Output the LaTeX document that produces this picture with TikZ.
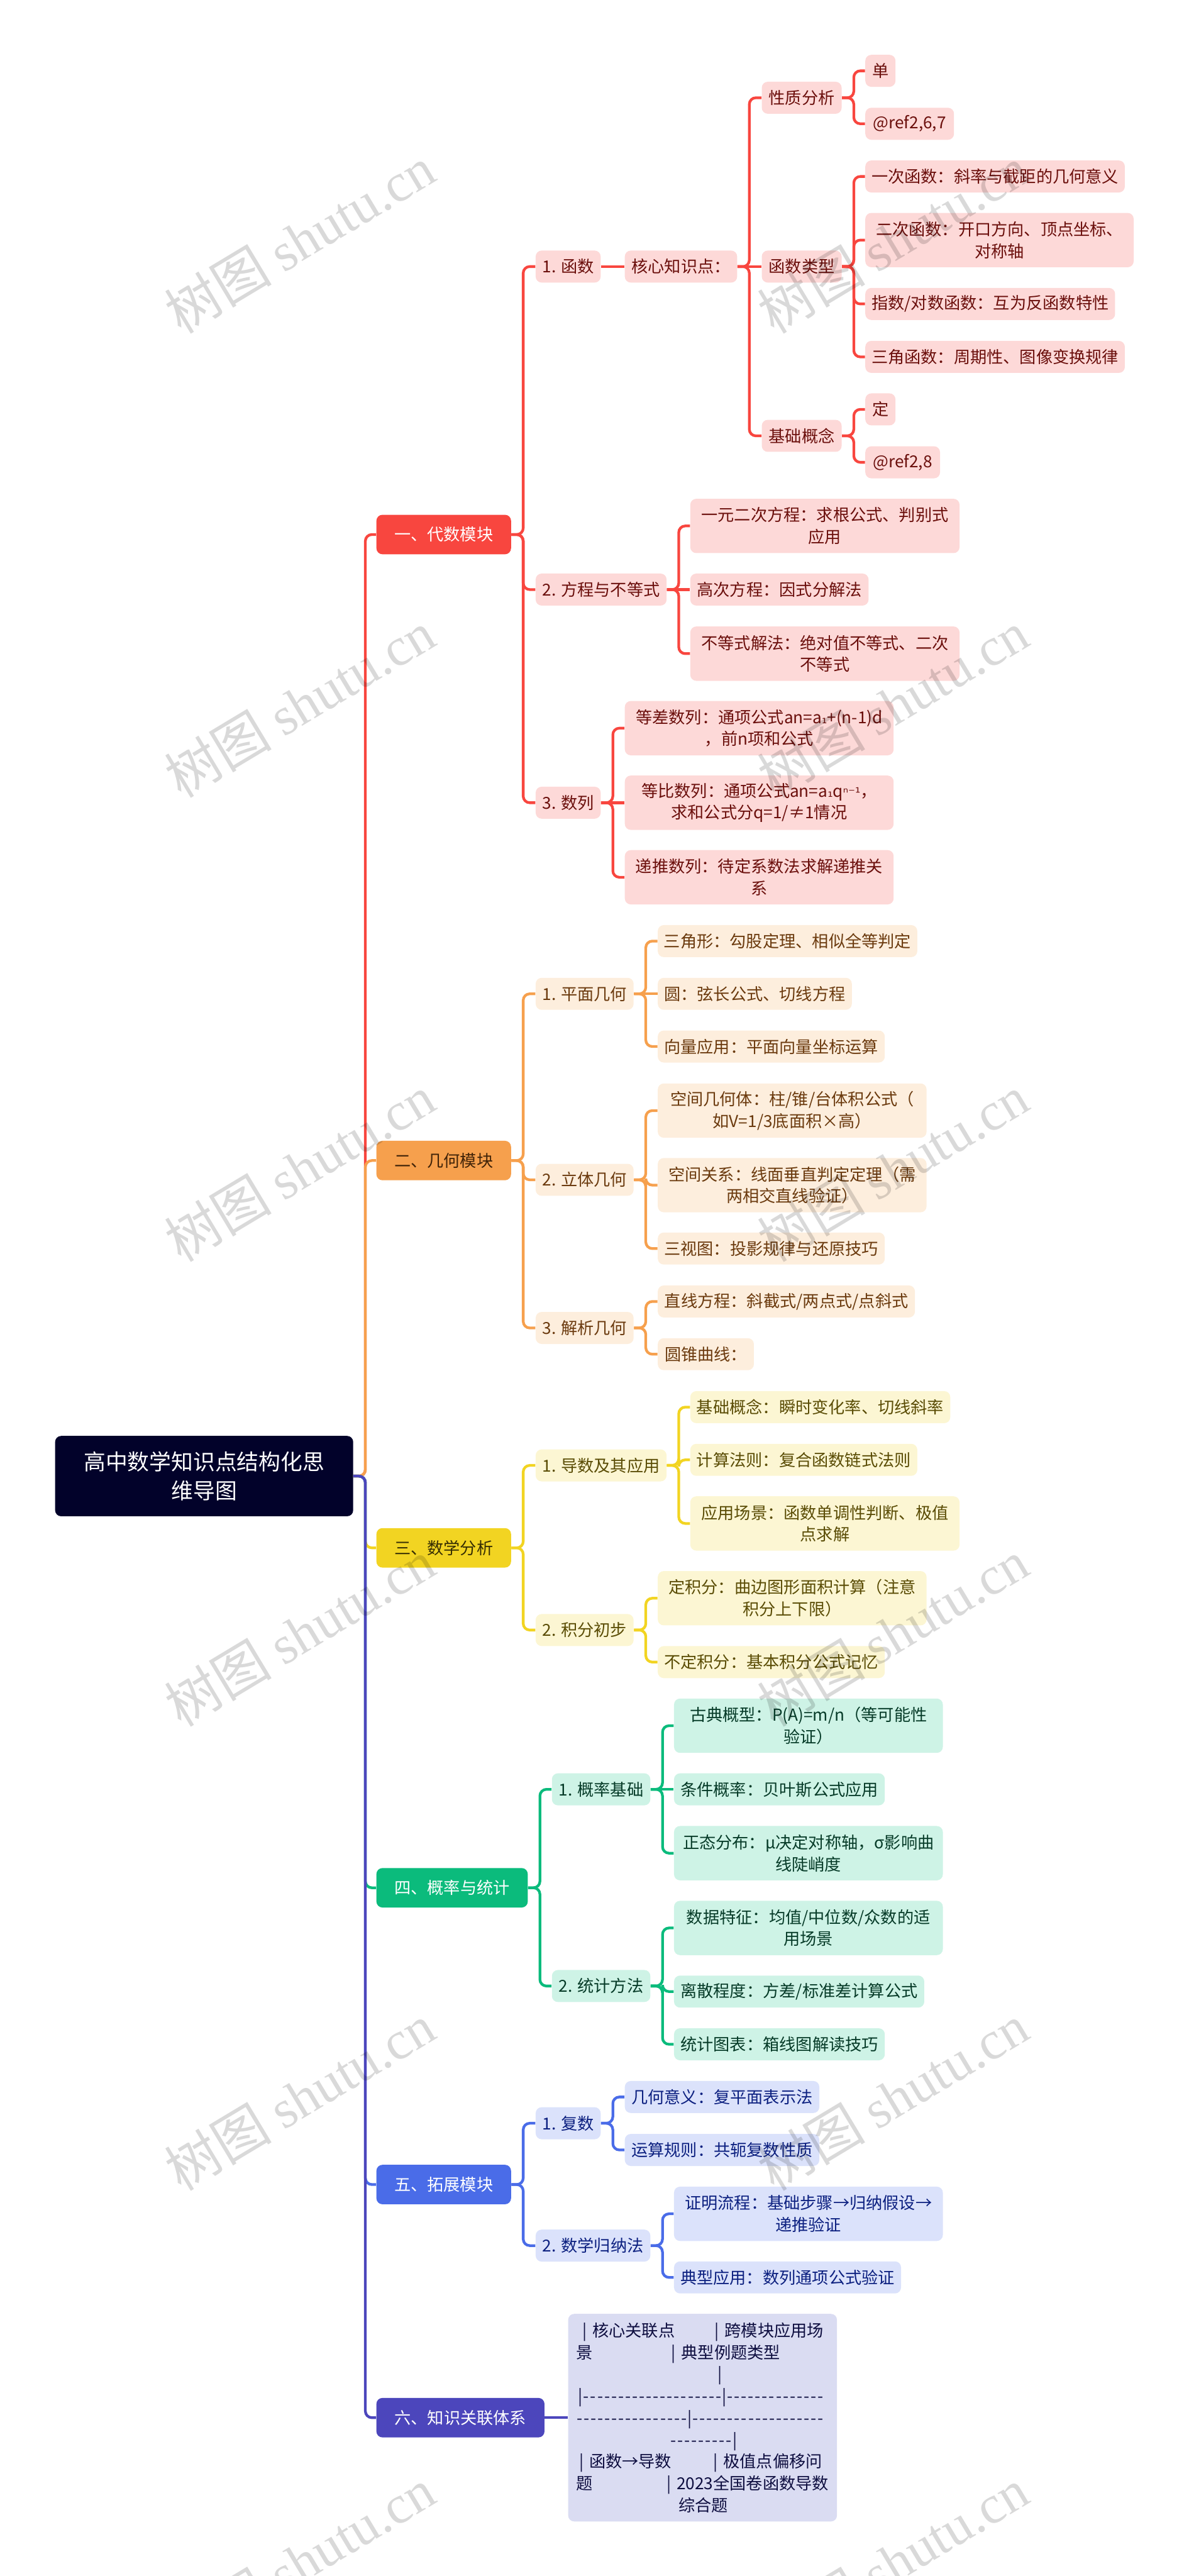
\documentclass[tikz,border=0pt]{standalone}
\usepackage{fontspec}
\setmainfont{Noto Sans CJK SC}
\newfontfamily\markfont{Liberation Serif}
\newfontfamily\symfont{DejaVu Sans}
\usepackage{tikz}
\definecolor{redd}{HTML}{F8463F}
\definecolor{redl}{HTML}{FDD9D8}
\definecolor{redt}{HTML}{6B0F0C}
\definecolor{ord}{HTML}{F6A04D}
\definecolor{orl}{HTML}{FDEEDD}
\definecolor{ort}{HTML}{6B3A0E}
\definecolor{yed}{HTML}{F2D422}
\definecolor{yel}{HTML}{FCF6D3}
\definecolor{yet}{HTML}{5A4C05}
\definecolor{grd}{HTML}{0BBB7C}
\definecolor{grl}{HTML}{CEF3E6}
\definecolor{grt}{HTML}{063B28}
\definecolor{bld}{HTML}{4A6CE8}
\definecolor{bll}{HTML}{DBE2FB}
\definecolor{blt}{HTML}{0C2080}
\definecolor{ind}{HTML}{4C46BC}
\definecolor{inl}{HTML}{DADCF2}
\definecolor{int}{HTML}{0E0E40}
\definecolor{rootc}{HTML}{02022A}
\tikzset{
    box/.style={anchor=west, rounded corners=.13cm, inner sep=0pt, align=center,
        font=\fontsize{10.1}{13.37}\selectfont},
    tall/.style={minimum height=1.17cm},
    leafr/.style={box, fill=redl, text=redt, minimum height=.69cm},
    leafo/.style={box, fill=orl, text=ort, minimum height=.69cm},
    leafy/.style={box, fill=yel, text=yet, minimum height=.69cm},
    leafg/.style={box, fill=grl, text=grt, minimum height=.69cm},
    leafb/.style={box, fill=bll, text=blt, minimum height=.69cm},
    branch/.style={box, minimum height=.85cm},
    wire/.style={line width=.058cm, rounded corners=.14cm},
    wmark/.style={rotate=31, text=black, opacity=.15, font=\fontsize{33}{34}\selectfont}
}
\newcommand{\hy}[1]{\foreach \k in {1,...,#1}{\makebox[.15cm]{-}}}
\newcommand{\gap}{.255}

\begin{document}
\begin{tikzpicture}

\useasboundingbox (0,0) rectangle (25.6,-55.47);

\node[box, fill=rootc, text=white, minimum width=6.42cm, minimum height=1.73cm,
    font=\fontsize{13.4}{17.8}\selectfont] (root) at (1.18,-31.785)
    {高中数学知识点结构化思\\维导图};

% algebra
\node[branch, fill=redd, text=white, minimum width=2.9cm] (a) at (8.1,-11.51) {一、代数模块};
\node[leafr, minimum width=1.4cm] (a1) at (11.53,-5.74) {1. 函数};
\node[leafr, minimum width=2.42cm] (a1k) at (13.45,-5.74) {核心知识点：};
\node[leafr, minimum width=1.72cm] (a1p) at (16.4,-2.105) {性质分析};
\node[leafr, minimum width=.65cm] (a1p1) at (18.63,-1.525) {单};
\node[leafr, minimum width=1.91cm] (a1p2) at (18.63,-2.665) {@ref2,6,7};
\node[leafr, minimum width=1.72cm] (a1t) at (16.4,-5.74) {函数类型};
\node[leafr, minimum width=5.59cm] (a1t1) at (18.63,-3.8) {一次函数：斜率与截距的几何意义};
\node[leafr, tall, minimum width=5.78cm] (a1t2) at (18.63,-5.17) {二次函数：开口方向、顶点坐标、\\对称轴};
\node[leafr, minimum width=5.38cm] (a1t3) at (18.63,-6.545) {指数/对数函数：互为反函数特性};
\node[leafr, minimum width=5.59cm] (a1t4) at (18.63,-7.685) {三角函数：周期性、图像变换规律};
\node[leafr, minimum width=1.72cm] (a1b) at (16.4,-9.385) {基础概念};
\node[leafr, minimum width=.65cm] (a1b1) at (18.63,-8.815) {定};
\node[leafr, minimum width=1.61cm] (a1b2) at (18.63,-9.955) {@ref2,8};
\node[leafr, minimum width=2.82cm] (a2) at (11.53,-12.695) {2. 方程与不等式};
\node[leafr, tall, minimum width=5.8cm] (a21) at (14.86,-11.325) {一元二次方程：求根公式、判别式\\应用};
\node[leafr, minimum width=3.84cm] (a22) at (14.86,-12.695) {高次方程：因式分解法};
\node[leafr, tall, minimum width=5.8cm] (a23) at (14.86,-14.075) {不等式解法：绝对值不等式、二次\\不等式};
\node[leafr, minimum width=1.4cm] (a3) at (11.53,-17.285) {3. 数列};
\node[leafr, tall, minimum width=5.79cm] (a31) at (13.45,-15.68) {等差数列：通项公式an=a{\symfont\footnotesize ₁}+(n-1)d\\，前n项和公式};
\node[leafr, tall, minimum width=5.79cm] (a32) at (13.45,-17.285) {等比数列：通项公式an=a{\symfont\footnotesize ₁}q{\symfont\footnotesize ⁿ⁻¹}，\\求和公式分q=1/≠1情况};
\node[leafr, tall, minimum width=5.79cm] (a33) at (13.45,-18.89) {递推数列：待定系数法求解递推关\\系};

% geometry
\node[branch, fill=ord, text=ort!60!black, minimum width=2.9cm] (g) at (8.1,-24.99) {二、几何模块};
\node[leafo, minimum width=2.11cm] (g1) at (11.53,-21.4) {1. 平面几何};
\node[leafo, minimum width=5.59cm] (g11) at (14.16,-20.265) {三角形：勾股定理、相似全等判定};
\node[leafo, minimum width=4.18cm] (g12) at (14.16,-21.4) {圆：弦长公式、切线方程};
\node[leafo, minimum width=4.89cm] (g13) at (14.16,-22.535) {向量应用：平面向量坐标运算};
\node[leafo, minimum width=2.11cm] (g2) at (11.53,-25.405) {2. 立体几何};
\node[leafo, tall, minimum width=5.79cm] (g21) at (14.16,-23.915) {空间几何体：柱/锥/台体积公式（\\如V=1/3底面积×高）};
\node[leafo, tall, minimum width=5.79cm] (g22) at (14.16,-25.52) {空间关系：线面垂直判定定理（需\\两相交直线验证）};
\node[leafo, minimum width=4.89cm] (g23) at (14.16,-26.885) {三视图：投影规律与还原技巧};
\node[leafo, minimum width=2.11cm] (g3) at (11.53,-28.595) {3. 解析几何};
\node[leafo, minimum width=5.54cm] (g31) at (14.16,-28.025) {直线方程：斜截式/两点式/点斜式};
\node[leafo, minimum width=2.07cm] (g32) at (14.16,-29.16) {圆锥曲线：};

% analysis
\node[branch, fill=yed, text=yet!60!black, minimum width=2.9cm] (n) at (8.1,-33.33) {三、数学分析};
\node[leafy, minimum width=2.82cm] (n1) at (11.53,-31.555) {1. 导数及其应用};
\node[leafy, minimum width=5.6cm] (n11) at (14.86,-30.3) {基础概念：瞬时变化率、切线斜率};
\node[leafy, minimum width=4.89cm] (n12) at (14.86,-31.435) {计算法则：复合函数链式法则};
\node[leafy, tall, minimum width=5.8cm] (n13) at (14.86,-32.805) {应用场景：函数单调性判断、极值\\点求解};
\node[leafy, minimum width=2.11cm] (n2) at (11.53,-35.1) {2. 积分初步};
\node[leafy, tall, minimum width=5.79cm] (n21) at (14.16,-34.415) {定积分：曲边图形面积计算（注意\\积分上下限）};
\node[leafy, minimum width=4.89cm] (n22) at (14.16,-35.79) {不定积分：基本积分公式记忆};

% probability
\node[branch, fill=grd, text=white, minimum width=3.26cm] (p) at (8.1,-40.65) {四、概率与统计};
\node[leafg, minimum width=2.12cm] (p1) at (11.88,-38.53) {1. 概率基础};
\node[leafg, tall, minimum width=5.79cm] (p11) at (14.51,-37.16) {古典概型：P(A)=m/n（等可能性\\验证）};
\node[leafg, minimum width=4.54cm] (p12) at (14.51,-38.53) {条件概率：贝叶斯公式应用};
\node[leafg, tall, minimum width=5.79cm] (p13) at (14.51,-39.905) {正态分布：μ决定对称轴，σ影响曲\\线陡峭度};
\node[leafg, minimum width=2.12cm] (p2) at (11.88,-42.765) {2. 统计方法};
\node[leafg, tall, minimum width=5.79cm] (p21) at (14.51,-41.515) {数据特征：均值/中位数/众数的适\\用场景};
\node[leafg, minimum width=5.39cm] (p22) at (14.51,-42.885) {离散程度：方差/标准差计算公式};
\node[leafg, minimum width=4.54cm] (p23) at (14.51,-44.02) {统计图表：箱线图解读技巧};

% extension
\node[branch, fill=bld, text=white, minimum width=2.9cm] (e) at (8.1,-47.04) {五、拓展模块};
\node[leafb, minimum width=1.4cm] (e1) at (11.53,-45.72) {1. 复数};
\node[leafb, minimum width=4.19cm] (e11) at (13.45,-45.155) {几何意义：复平面表示法};
\node[leafb, minimum width=4.19cm] (e12) at (13.45,-46.295) {运算规则：共轭复数性质};
\node[leafb, minimum width=2.47cm] (e2) at (11.53,-48.355) {2. 数学归纳法};
\node[leafb, tall, minimum width=5.79cm] (e21) at (14.51,-47.67) {证明流程：基础步骤→归纳假设→\\递推验证};
\node[leafb, minimum width=4.89cm] (e22) at (14.51,-49.04) {典型应用：数列通项公式验证};

% links
\node[branch, fill=ind, text=white, minimum width=3.62cm] (k) at (8.1,-52.06) {六、知识关联体系};
\node[box, fill=inl, text=int, minimum width=5.79cm, minimum height=4.47cm, text width=5.45cm,
    align=left, inner xsep=.17cm] (k1) at (12.23,-52.06)
    {\hspace*{.14cm}| 核心关联点\hspace*{.86cm}| 跨模块应用场\\
     景\hspace*{1.7cm}| 典型例题类型\\
     \hspace*{3.05cm}|\\
     \hspace*{.05cm}|\hy{20}|\hy{14}\\
     \hy{16}|\hy{19}\\
     \hspace*{2.02cm}\hy{9}|\\
     \hspace*{.07cm}| 函数→导数\hspace*{.9cm}| 极值点偏移问\\
     题\hspace*{1.6cm}| 2023全国卷函数导数\\
     \hspace*{2.21cm}综合题};

\foreach \a/\b in {root/a,a/a1,a/a2,a/a3,a1k/a1p,a1k/a1b,a1p/a1p1,a1p/a1p2,
    a1t/a1t1,a1t/a1t2,a1t/a1t3,a1t/a1t4,a1b/a1b1,a1b/a1b2,a2/a21,a2/a23,a3/a31,a3/a33}
    \draw[wire, redd] (\a.east) -- ++(\gap,0) |- (\b.west);
\foreach \a/\b in {root/g,g/g1,g/g2,g/g3,g1/g11,g1/g13,g2/g21,g2/g22,g2/g23,g3/g31,g3/g32}
    \draw[wire, ord] (\a.east) -- ++(\gap,0) |- (\b.west);
\foreach \a/\b in {root/n,n/n1,n/n2,n1/n11,n1/n12,n1/n13,n2/n21,n2/n22}
    \draw[wire, yed] (\a.east) -- ++(\gap,0) |- (\b.west);
\foreach \a/\b in {root/p,p/p1,p/p2,p1/p11,p1/p13,p2/p21,p2/p22,p2/p23}
    \draw[wire, grd] (\a.east) -- ++(\gap,0) |- (\b.west);
\foreach \a/\b in {root/e,e/e1,e/e2,e1/e11,e1/e12,e2/e21,e2/e22}
    \draw[wire, bld] (\a.east) -- ++(\gap,0) |- (\b.west);
\draw[wire, ind] (root.east) -- ++(\gap,0) |- (k.west);

% straight ones
\foreach \c/\a/\b in {redd/a1/a1k,redd/a1k/a1t,redd/a2/a22,redd/a3/a32,ord/g1/g12,grd/p1/p12,ind/k/k1}
    \draw[wire, \c] (\a.east) -- (\b.west);

\foreach \i in {0,...,5} {
    \node[wmark] (wl\i) at (6.45,-5.16-10*\i) {树图 {\markfont shutu.cn}};
    \node[wmark] (wr\i) at (19.23,-5.16-10*\i) {树图 {\markfont shutu.cn}};
}

\end{tikzpicture}
\end{document}
